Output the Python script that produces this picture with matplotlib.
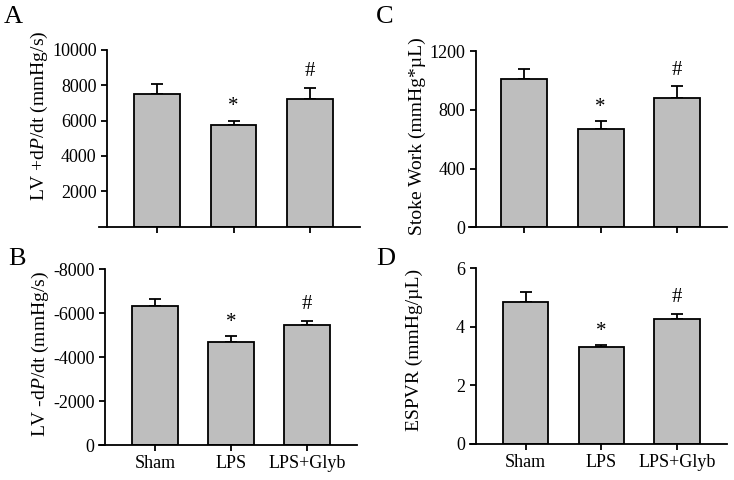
import matplotlib
matplotlib.use("Agg")
import matplotlib.pyplot as plt

plt.rcParams['font.family'] = ['Liberation Serif', 'DejaVu Serif']
plt.rcParams['mathtext.fontset'] = 'custom'
plt.rcParams['mathtext.rm'] = 'Liberation Serif'
plt.rcParams['mathtext.it'] = 'Liberation Serif:italic'

groups = ['Sham', 'LPS', 'LPS+Glyb']

# Panel A: LV +dP/dt
a_mean = [7500, 5740, 7250]
a_err = [550, 260, 610]
# Panel B: LV -dP/dt (drawn as magnitude, labels negative)
b_mean = [6330, 4670, 5470]
b_err = [340, 300, 180]
# Panel C: stroke work
c_mean = [1008, 668, 881]
c_err = [70, 58, 78]
# Panel D: ESPVR
d_mean = [4.86, 3.30, 4.27]
d_err = [0.34, 0.08, 0.17]

W, H = 734, 480
fig = plt.figure(figsize=(W / 100, H / 100), dpi=100)

LW = 1.3
bar_color = '#bebebe'


def make_panel(px, mean, err, yticks, yticklabels, ymax, ylabel, lab_xy,
               letter, letter_xy, show_x):
    # px = (x-axis start, y spine, x-axis end, bottom, top, first bar centre, spacing)
    x0, xs, x1, yb, yt, c0, sp = px
    ax = fig.add_axes([x0 / W, 1 - yb / H, (x1 - x0) / W, (yb - yt) / H])
    xpos = list(range(len(groups)))
    ax.bar(xpos, mean, width=0.6, color=bar_color, edgecolor='black',
           linewidth=LW, zorder=2)
    ax.errorbar(xpos, mean, yerr=[[0] * len(err), err], fmt='none',
                ecolor='black', elinewidth=LW, capsize=4.5, capthick=LW, zorder=1)
    ax.set_xlim((x0 - c0) / sp, (x1 - c0) / sp)
    ax.set_ylim(0, ymax)
    ax.spines['top'].set_visible(False)
    ax.spines['right'].set_visible(False)
    ax.spines['left'].set_position(('axes', (xs - x0) / (x1 - x0)))
    for s in ('left', 'bottom'):
        ax.spines[s].set_linewidth(LW)
    ax.set_yticks(yticks)
    ax.set_yticklabels(yticklabels)
    ax.set_xticks(xpos)
    if show_x:
        ax.set_xticklabels(groups)
    else:
        ax.set_xticklabels([])
    ax.tick_params(direction='out', length=4.5, width=LW, labelsize=13, pad=3)
    ax.set_ylabel(ylabel, fontsize=14)
    ax.yaxis.label.set_va('center')
    ax.yaxis.set_label_coords(lab_xy[0] / W, 1 - lab_xy[1] / H,
                              transform=fig.transFigure)
    top1 = mean[1] + err[1]
    top2 = mean[2] + err[2]
    ax.annotate('*', (1, top1), xytext=(0, 3), textcoords='offset points',
                ha='center', va='bottom', fontsize=15)
    ax.annotate('#', (2, top2), xytext=(0, 5), textcoords='offset points',
                ha='center', va='bottom', fontsize=15)
    fig.text(letter_xy[0] / W, 1 - letter_xy[1] / H, letter, fontsize=19,
             ha='left', va='baseline')
    return ax


make_panel((99, 107, 360, 226.5, 50, 157, 76.5), a_mean, a_err,
           [2000, 4000, 6000, 8000, 10000],
           ['2000', '4000', '6000', '8000', '10000'], 10000,
           'LV +d$\\mathit{P}$/dt (mmHg/s)', (39, 116), 'A', (4, 23), False)

make_panel((468.5, 475.5, 727, 227.5, 51, 524, 76.6), c_mean, c_err,
           [0, 400, 800, 1200], ['0', '400', '800', '1200'], 1200,
           'Stoke Work (mmHg*\u00b5L)', (417, 136), 'C', (376, 23), False)

make_panel((98.5, 105, 357, 445, 269.3, 155, 76), b_mean, b_err,
           [0, 2000, 4000, 6000, 8000], ['0', '-2000', '-4000', '-6000', '-8000'],
           8000, 'LV -d$\\mathit{P}$/dt (mmHg/s)', (40, 354), 'B', (8, 265), True)

make_panel((469.5, 475.5, 727, 444, 268.3, 525.5, 75.8), d_mean, d_err,
           [0, 2, 4, 6], ['0', '2', '4', '6'], 6,
           'ESPVR (mmHg/\u00b5L)', (414, 350), 'D', (376, 265), True)

fig.savefig('out.png', dpi=100)
